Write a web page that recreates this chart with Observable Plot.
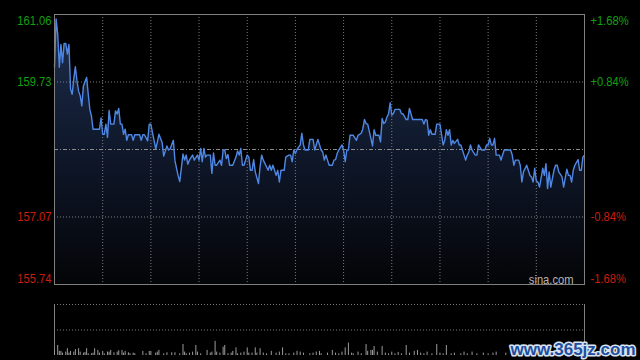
<!DOCTYPE html>
<html><head><meta charset="utf-8">
<script src="https://cdn.jsdelivr.net/npm/d3@7"></script>
<script src="https://cdn.jsdelivr.net/npm/@observablehq/plot@0.6"></script>
<style>
html,body{margin:0;padding:0;background:#000;}
#chart{width:640px;height:360px;overflow:hidden;background:#000;}
#chart svg{display:block;}
</style></head><body><div id="chart"></div>
<script>
// minute of the trading session (0..330) and last price
const minutes = [0,1,2,3,4,5,6,7,8,9,10,11,12,13,14,15,16,17,18,20,21,22,23,24,26,28,29,30,31,32,33,34,35,37,38,39,40,41,42,43,44,45,46,48,49,50,52,53,54,55,56,58,59,60,61,62,63,64,65,67,68,70,71,72,74,75,76,77,78,80,81,82,83,84,86,87,89,90,91,92,93,94,95,97,98,99,100,101,103,104,105,106,107,108,109,111,113,114,115,116,117,118,120,121,122,123,124,125,127,128,129,130,132,133,134,135,136,138,139,140,141,143,144,146,147,148,149,150,151,153,154,155,156,158,159,161,162,164,166,167,168,169,170,171,173,174,175,176,177,179,180,181,182,183,184,186,188,189,191,192,193,194,195,197,198,199,200,202,203,204,205,206,207,208,209,210,211,212,215,216,217,219,220,221,223,226,229,230,231,232,233,234,235,237,238,240,242,243,244,245,246,247,248,249,251,252,253,254,256,257,258,259,260,262,263,264,266,268,269,270,271,272,273,274,275,277,278,279,280,283,284,285,286,287,289,290,291,292,294,295,296,297,298,299,300,301,302,304,305,306,307,308,309,311,312,313,314,316,317,319,320,321,322,323,324,326,327,328,329,330];
const prices = [160.02,160.97,160.67,160.02,160.47,160.11,160.49,160.49,160.28,160.47,159.59,159.49,159.79,160.03,159.75,159.55,159.46,159.26,159.65,159.82,159.49,159.19,159.06,158.80,158.80,158.80,159.02,158.70,158.70,158.90,158.64,159.17,158.90,158.90,159.16,159.10,159.21,158.90,158.90,158.70,158.80,158.58,158.69,158.69,158.58,158.69,158.69,158.69,158.58,158.69,158.69,158.57,158.90,158.90,158.73,158.58,158.41,158.54,158.70,158.54,158.27,158.47,158.39,158.41,158.58,158.18,158.03,157.88,157.77,158.31,158.19,158.29,158.11,158.19,158.29,158.19,158.29,158.19,158.42,158.16,158.42,158.25,158.29,158.29,157.93,158.33,158.09,158.09,158.19,158.09,158.39,158.39,158.22,158.30,158.09,158.09,158.25,158.37,158.29,158.42,158.09,158.09,158.29,158.25,157.99,157.99,158.20,157.96,157.73,158.06,158.29,158.19,158.06,157.99,158.09,157.99,158.09,157.89,157.99,157.76,157.99,157.99,158.25,158.29,158.29,158.16,158.39,158.32,158.40,158.49,158.72,158.49,158.39,158.39,158.60,158.60,158.39,158.60,158.39,158.35,158.19,158.29,158.19,158.09,158.09,158.19,158.20,158.32,158.39,158.49,158.39,158.16,158.39,158.39,158.68,158.68,158.58,158.68,158.72,158.81,158.99,158.91,158.90,158.62,158.47,158.79,158.68,158.68,158.55,159.01,158.91,158.94,159.04,159.10,159.32,159.08,159.11,159.19,159.19,159.11,159.10,158.99,158.99,159.21,158.99,158.99,158.99,158.90,158.99,158.98,158.68,158.79,158.70,158.70,158.90,158.90,158.49,158.58,158.79,158.68,158.79,158.49,158.58,158.52,158.60,158.49,158.49,158.39,158.19,158.29,158.35,158.49,158.39,158.29,158.29,158.49,158.39,158.39,158.49,158.49,158.62,158.49,158.49,158.62,158.29,158.29,158.19,158.29,158.39,158.39,158.39,158.29,158.09,158.19,158.19,158.09,157.76,157.96,158.09,157.99,157.89,157.86,157.76,158.03,157.78,157.76,157.66,158.03,157.89,158.12,157.63,157.96,157.66,157.99,158.09,158.09,157.96,157.86,157.66,158.01,157.89,157.89,157.76,157.99,158.09,158.20,157.99,157.99,158.25,158.29];

// volume bars (minute, volume)
const volMinutes = [0,2,3,4,5,7,8,9,10,12,13,15,16,18,19,20,21,23,24,25,27,28,30,31,33,34,35,37,39,40,42,43,44,46,47,49,50,55,57,59,60,63,64,65,68,70,73,75,78,80,81,82,84,86,88,89,91,95,97,98,100,101,103,105,106,108,110,111,113,114,116,118,120,121,123,125,126,128,130,132,135,138,140,142,144,146,149,151,153,155,159,161,163,165,166,170,173,175,177,179,181,183,185,186,189,191,194,195,197,198,199,201,204,206,208,210,212,214,216,219,221,224,226,228,230,232,235,238,240,242,244,247,249,253,255,257,260,263,267,270,273,275,281,285,289,293,297,301,305,309,313,317,321,325,329];
const volumes = [30,59,25,24,14,20,40,14,24,20,35,40,20,14,18,40,10,10,14,40,30,14,24,10,20,20,30,16,20,28,30,14,24,16,10,14,10,24,10,24,24,14,20,30,10,16,16,16,10,65,20,10,14,20,59,20,10,30,14,20,83,20,14,49,59,10,14,24,45,10,14,20,45,14,14,45,14,40,14,10,24,14,20,45,10,10,14,24,20,14,10,14,20,24,10,14,30,14,10,20,45,73,14,10,20,10,65,24,30,30,53,20,53,14,10,20,10,18,10,59,14,24,30,14,10,20,10,65,14,10,59,10,14,10,20,10,20,10,14,10,14,20,14,20,14,10,20,10,14,20,10,14,10,14,20];

const prevClose = 158.40;
const priceTicks = [161.06, 159.73, 157.07, 155.74];
const pctLabels = ["+1.68%", "+0.84%", "-0.84%", "-1.68%"];
const gridMinutes = [30,60,90,120,150,180,210,240,270,300];
const sourceText = "sina.com";
const watermarkText = "www.365jz.com";

const priceData = minutes.map((m, i) => ({m, p: prices[i]}));
const volData = volMinutes.map((m, i) => ({m, v: volumes[i]}));

const labelFont = '"Liberation Sans",Arial,sans-serif';
const UP = "#12a012", DOWN = "#cc1c0c";
const tickColor = (v) => v > prevClose ? UP : DOWN;

const W = 640, H1 = 290, MT = 14, MB = 6, ML = 54, MR = 56;

function gradientDefs() {
  const defs = d3.create("svg:defs");
  const g = defs.append("linearGradient").attr("id", "pg")
    .attr("gradientUnits", "userSpaceOnUse")
    .attr("x1", 0).attr("x2", 0).attr("y1", MT).attr("y2", H1 - MB);
  g.append("stop").attr("offset", "0%").attr("stop-color", "#1e2f4e");
  g.append("stop").attr("offset", "55%").attr("stop-color", "#0e1628");
  g.append("stop").attr("offset", "100%").attr("stop-color", "#040507");
  return defs.node();
}

function labels(idx, dy) {
  const vals = idx.map(i => priceTicks[i]);
  const pcts = idx.map(i => pctLabels[i]);
  return [
    Plot.text(vals, {y: d => d, text: d => d.toFixed(2), frameAnchor: "left", textAnchor: "end",
      dx: -3, dy, fill: d => tickColor(d)}),
    Plot.text(vals.map((v, k) => ({v, t: pcts[k]})), {y: "v", text: "t", frameAnchor: "right", textAnchor: "start",
      dx: 6, dy, fill: d => tickColor(d.v)})
  ];
}

const pricePlot = Plot.plot({
  width: W, height: H1, marginTop: MT, marginBottom: MB, marginLeft: ML, marginRight: MR,
  x: {domain: [0, 330], axis: null},
  y: {domain: [155.74, 161.06], axis: null},
  color: {type: "identity"},
  style: {background: "#000", fontFamily: labelFont, fontSize: "13px", overflow: "visible"},
  marks: [
    gradientDefs,
    Plot.areaY(priceData, {x: "m", y1: 155.74, y2: "p", fill: "url(#pg)"}),
    Plot.ruleX(gridMinutes, {stroke: "#7c7c7c", strokeDasharray: "1,2"}),
    Plot.ruleY([priceTicks[1], priceTicks[2]], {stroke: "#7c7c7c", strokeDasharray: "1,2"}),
    Plot.ruleY([prevClose], {stroke: "#8c8c8c", strokeDasharray: "4,2,1,2"}),
    Plot.lineY(priceData, {x: "m", y: "p", stroke: "#4f88e4", strokeWidth: 1.4}),
    Plot.frame({stroke: "#808080"}),
    ...labels([0], 6.5),
    ...labels([1, 2], 0),
    ...labels([3], -6),
    Plot.text([sourceText], {text: d => d, frameAnchor: "bottom-right", textAnchor: "end", lineAnchor: "bottom",
      dx: -11, dy: -1, fill: "#b4b4b4"})
  ]
});

const volPlot = Plot.plot({
  width: W, height: 70, marginTop: 14, marginBottom: 5, marginLeft: ML, marginRight: MR,
  x: {domain: [0, 330], axis: null},
  y: {domain: [0, 300], axis: null},
  style: {background: "#000", overflow: "visible"},
  marks: [
    Plot.ruleY([300, 150], {stroke: "#7c7c7c", strokeDasharray: "1,2"}),
    Plot.ruleX([0, 330], {stroke: "#808080"}),
    Plot.ruleX(volData, {x: "m", y1: 0, y2: "v", stroke: "#9a9a9a"}),
    Plot.text([watermarkText], {text: d => d, frameAnchor: "bottom-right", textAnchor: "end", lineAnchor: "bottom",
      dx: 51, dy: -1, fill: "#1d4f9e", stroke: "#dbe3f0", strokeWidth: 3, paintOrder: "stroke",
      fontWeight: "bold", fontSize: 17, fontFamily: '"Liberation Sans",Arial,sans-serif'})
  ]
});

const root = document.getElementById("chart");
root.append(pricePlot, volPlot);

// the reference uses a condensed face: compress the label glyphs horizontally
d3.select(pricePlot).selectAll("text").each(function () {
  const w = this.getComputedTextLength();
  if (w > 0) {
    this.setAttribute("textLength", (w * 0.86).toFixed(1));
    this.setAttribute("lengthAdjust", "spacingAndGlyphs");
  }
});
</script>
</body></html>
